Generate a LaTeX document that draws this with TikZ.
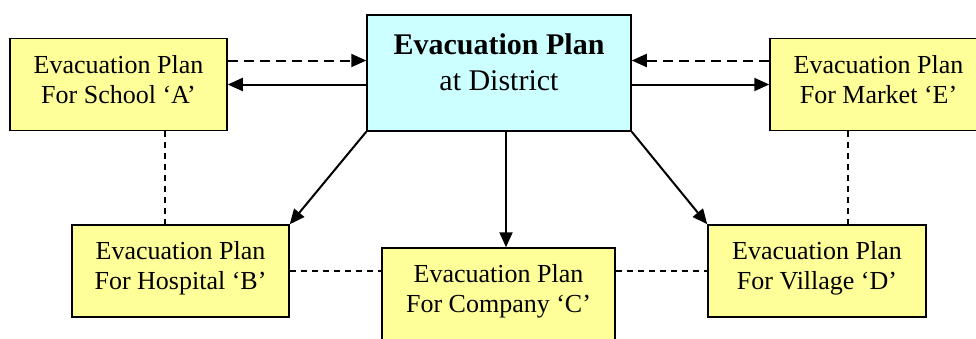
\documentclass[tikz,border=0pt]{standalone}
\usepackage{fontspec}
\setmainfont{Liberation Serif}
\usetikzlibrary{arrows.meta,positioning,calc}
\definecolor{planyellow}{RGB}{255,255,153}
\definecolor{districtcyan}{RGB}{204,255,255}

\tikzset{
  planbox/.style={draw, line width=1.5pt, fill=planyellow, minimum width=217pt, minimum height=92pt,
    inner sep=0pt, align=center, text depth=11pt, font=\fontsize{26}{30}\selectfont},
  mainbox/.style={draw, line width=1.5pt, fill=districtcyan, minimum width=264pt, minimum height=116pt,
    inner sep=0pt, align=center, text depth=21pt, font=\fontsize{30}{36}\selectfont},
  orderarrow/.style={line width=2pt, -{Triangle[length=15pt,width=13pt]}},
  reportarrow/.style={line width=2pt, dash pattern=on 10pt off 6pt, -{Triangle[length=15pt,width=13pt]}},
  peerlink/.style={line width=1.3pt, dash pattern=on 6pt off 5pt}
}

\begin{document}
\begin{tikzpicture}[x=1pt, y=-1pt]
  \useasboundingbox (0,0) rectangle (976,338);
  \clip (0,0) rectangle (976,338);

  % district level plan
  \node[mainbox] (district) at (499,73) {\textbf{Evacuation Plan}\\at District};

  % local plans
  \node[planbox] (schoolA) at (118.5,84.5) {Evacuation Plan\\For School `A'};
  \node[planbox] (marketE) at (878.5,84.5) {Evacuation Plan\\For Market `E'};
  \node[planbox] (hospitalB) at (180.5,271) {Evacuation Plan\\For Hospital `B'};
  \node[planbox, minimum width=233pt] (companyC) at (498.5,294) {Evacuation Plan\\For Company `C'};
  \node[planbox, minimum width=218pt] (villageD) at (817,271) {Evacuation Plan\\For Village `D'};

  % reports up to the district
  \coordinate (repA) at ([yshift=24pt]schoolA.east);
  \coordinate (repE) at ([yshift=24pt]marketE.west);
  \draw[reportarrow] (repA) -- (repA -| district.west);
  \draw[reportarrow] (repE) -- (repE -| district.east);

  % orders down from the district
  \draw[orderarrow] (district.west |- schoolA.east) -- (schoolA.east);
  \draw[orderarrow] (district.east |- marketE.west) -- (marketE.west);
  \draw[orderarrow] (district.south west) -- (hospitalB.north east);
  \draw[orderarrow] (district.south east) -- (villageD.north west);
  \coordinate (downC) at ([xshift=7pt]district.south);
  \draw[orderarrow] (downC) -- (downC |- companyC.north);

  % links between neighbouring plans
  \coordinate (linkAB) at ([xshift=46.5pt]schoolA.south);
  \coordinate (linkED) at ([xshift=-30.5pt]marketE.south);
  \draw[peerlink] (linkAB) -- (linkAB |- hospitalB.north);
  \draw[peerlink] (linkED) -- (linkED |- villageD.north);
  \draw[peerlink] (hospitalB.east) -- (hospitalB.east -| companyC.west);
  \draw[peerlink] (companyC.east |- villageD.west) -- (villageD.west);
\end{tikzpicture}
\end{document}
